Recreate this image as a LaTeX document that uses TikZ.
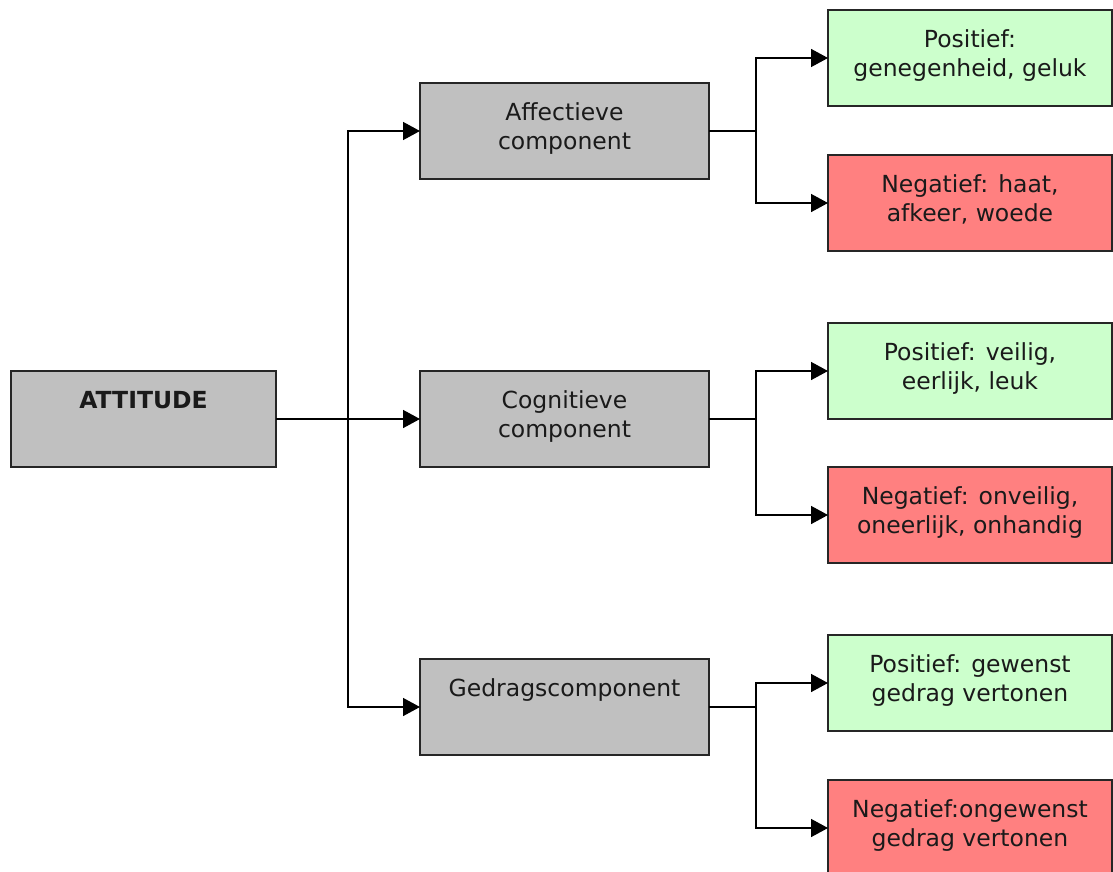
\documentclass[tikz,border=0pt]{standalone}
\usepackage{fontspec}
\setmainfont{DejaVu Sans}
\usetikzlibrary{arrows.meta}
\definecolor{boxgray}{HTML}{C0C0C0}
\definecolor{boxgreen}{HTML}{CCFFCC}
\definecolor{boxred}{HTML}{FF8080}
\definecolor{txt}{HTML}{1A1A1A}
\tikzset{
  box/.style={draw=black!85, line width=1.5pt, anchor=north west, inner sep=0pt, outer sep=0pt, minimum height=96pt},
  midbox/.style={box, fill=boxgray, minimum width=289pt},
  posbox/.style={box, fill=boxgreen, minimum width=284pt},
  negbox/.style={box, fill=boxred, minimum width=284pt},
  lbl/.style={anchor=north, inner sep=0pt, align=center, text=txt,
    font=\fontsize{23.5pt}{29pt}\selectfont},
  conn/.style={line width=1.5pt, black, line join=miter},
  arr/.style={conn, -{Triangle[length=17pt,width=18pt]}}
}
\begin{document}
\begin{tikzpicture}[x=1pt,y=-1pt]
\clip (0,0) rectangle (1113,872);
\fill[white] (0,0) rectangle (1113,872);
% left
\node[box, fill=boxgray, minimum width=265pt] (att) at (11,371) {};
\node[lbl, font=\fontsize{23.5pt}{29pt}\selectfont\bfseries] (attT) at ([yshift=-20pt]att.north) {ATTITUDE};
% middle
\node[midbox] (aff) at (420,83) {};
\node[lbl] (affT) at ([yshift=-19pt]aff.north) {Affectieve\\component};
\node[midbox] (cog) at (420,371) {};
\node[lbl] (cogT) at ([yshift=-19pt]cog.north) {Cognitieve\\component};
\node[midbox] (ged) at (420,659) {};
\node[lbl] (gedT) at ([yshift=-19pt]ged.north) {Gedragscomponent};
% right
\node[posbox] (p1) at (828,10) {};
\node[lbl] (p1T) at ([yshift=-19pt]p1.north) {Positief:\\genegenheid, geluk};
\node[negbox] (n1) at (828,155) {};
\node[lbl] (n1T) at ([yshift=-19pt]n1.north) {Negatief: haat,\\afkeer, woede};
\node[posbox] (p2) at (828,323) {};
\node[lbl] (p2T) at ([yshift=-19pt]p2.north) {Positief: veilig,\\eerlijk, leuk};
\node[negbox] (n2) at (828,467) {};
\node[lbl] (n2T) at ([yshift=-19pt]n2.north) {Negatief: onveilig,\\oneerlijk, onhandig};
\node[posbox] (p3) at (828,635) {};
\node[lbl] (p3T) at ([yshift=-19pt]p3.north) {Positief: gewenst\\gedrag vertonen};
\node[negbox] (n3) at (828,780) {};
\node[lbl] (n3T) at ([yshift=-19pt]n3.north) {Negatief:ongewenst\\gedrag vertonen};
% connectors left
\draw[arr] (att.east) -- (cog.west);
\draw[arr] (att.east) -- ++(72,0) |- (aff.west);
\draw[arr] (att.east) -- ++(72,0) |- (ged.west);
% connectors right
\draw[arr] (aff.east) -- ++(47,0) |- (p1.west);
\draw[arr] (aff.east) -- ++(47,0) |- (n1.west);
\draw[arr] (cog.east) -- ++(47,0) |- (p2.west);
\draw[arr] (cog.east) -- ++(47,0) |- (n2.west);
\draw[arr] (ged.east) -- ++(47,0) |- (p3.west);
\draw[arr] (ged.east) -- ++(47,0) |- (n3.west);
\end{tikzpicture}
\end{document}
